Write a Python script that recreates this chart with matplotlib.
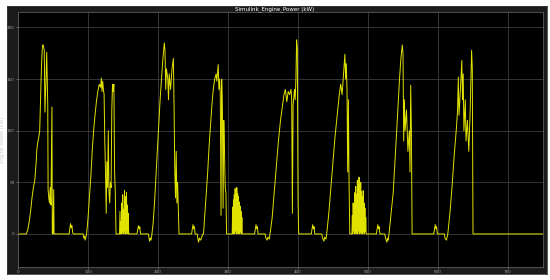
import matplotlib
matplotlib.use('Agg')
import matplotlib.pyplot as plt

# engine power trace (time s, power kW), one block per drive cycle
c1_t = [0, 12, 14, 16, 18, 20, 22, 24, 26, 27, 28, 30, 31, 32, 33, 34, 35, 36, 37.5, 38.5, 40, 41, 42.5, 43, 44, 45, 46, 47, 48.5, 49, 50, 51, 51.5]
c1_p = [0, 0, 4, 12, 22, 35, 45, 52, 70, 82, 88, 95, 100, 125, 150, 170, 183, 183, 178, 118, 150, 176, 125, 43, 35, 30, 45, 28, 123, 0, 0, 43, 0]

b1_t = [73, 75, 76, 77, 78, 79, 93, 94, 95, 96, 97]
b1_p = [0, 10, 6, 8, 2, 0, 0, -4, -2, -6, -3]

c2_t = [98, 100, 102, 104, 106, 108, 110, 112, 114, 116, 118, 119, 120, 121, 122, 123, 124, 125, 126, 127, 128, 129, 130, 131, 132, 133, 134, 135, 136, 137, 138, 139, 140]
c2_p = [0, 15, 35, 55, 80, 100, 115, 128, 138, 145, 142, 151, 138, 148, 140, 135, 90, 60, 20, 70, 45, 100, 40, 30, 50, 45, 120, 145, 138, 145, 60, 40, 0]

s2_t = [145, 145.7, 146.4, 147, 147.6, 148.2, 149, 149.6, 150.2, 151, 151.6, 152.2, 153, 153.6, 154.2, 155, 155.6, 156.2, 157, 157.6, 158.2, 159]
s2_p = [0, 22, 0, 12, 0, 30, 2, 38, 0, 24, 3, 42, 0, 36, 0, 40, 4, 28, 0, 20, 0, 0]

b2_t = [170, 172, 173, 174, 175, 186, 187, 188, 189, 190]
b2_p = [0, 8, 5, 7, 0, 0, -3, -7, -4, -6]

c3_t = [191, 193, 195, 197, 199, 201, 203, 205, 207, 209, 210, 211, 212, 214, 215, 216, 218, 220, 222, 223, 224, 225, 226, 227, 228, 229, 230]
c3_p = [-2, 10, 30, 55, 80, 105, 130, 150, 170, 185, 178, 140, 160, 150, 130, 155, 140, 160, 170, 120, 60, 35, 80, 30, 50, 25, 0]

b3_t = [248, 250, 251, 252, 253, 256, 257, 258, 259, 261, 263, 264]
b3_p = [0, 9, 5, 7, 0, 0, -5, -8, -4, -6, -2, 0]

c4_t = [265, 267, 269, 271, 273, 275, 277, 279, 281, 283, 284, 286, 287, 288, 289, 290, 291, 292, 293, 294, 295, 296, 297, 298]
c4_p = [0, 20, 40, 60, 85, 105, 125, 140, 150, 155, 148, 164, 140, 150, 135, 18, 150, 120, 25, 110, 80, 45, 40, 0]

s4_t = [306, 306.6, 307.2, 307.8, 308.4, 309, 309.6, 310.2, 310.8, 311.4, 312, 312.6, 313.2, 313.8, 314.4, 315, 315.6, 316.2, 316.8, 317.4, 318, 318.6, 319.2, 319.8, 320.4, 321]
s4_p = [0, 26, 0, 33, 2, 38, 0, 44, 3, 41, 0, 45, 2, 39, 0, 36, 3, 31, 0, 27, 2, 22, 0, 16, 0, 0]

b4_t = [338, 340, 341, 342, 343, 353, 354, 356, 357, 359, 360]
b4_p = [0, 9, 5, 7, 0, 0, -4, -6, -3, -5, 0]

c5_t = [360, 363, 366, 369, 372, 375, 378, 380, 382, 384, 386, 388, 390, 391, 392, 393, 395, 396, 397, 398, 399, 400, 400.5, 401]
c5_p = [0, 15, 40, 65, 90, 110, 125, 135, 140, 128, 138, 135, 140, 130, 20, 125, 140, 130, 150, 188, 180, 40, 15, 0]

b5_t = [419, 421, 422, 423, 424, 434, 435, 437, 438, 440, 441]
b5_p = [0, 9, 5, 7, 0, 0, -4, -7, -3, -5, 0]

c6_t = [441, 444, 447, 450, 453, 456, 459, 461, 463, 465, 467, 468, 469, 470, 471, 472, 473, 474]
c6_p = [0, 20, 45, 70, 95, 115, 135, 145, 135, 155, 174, 150, 165, 140, 60, 130, 45, 0]

s6_t = [477, 477.6, 478.2, 478.8, 479.4, 480, 480.6, 481.2, 481.8, 482.4, 483, 483.6, 484.2, 484.8, 485.4, 486, 486.6, 487.2, 487.8, 488.4, 489, 489.6, 490.2, 490.8, 491.4, 492, 492.6, 493.2, 493.8, 494.4, 495, 495.6, 496.2, 496.8, 497.4, 498]
s6_p = [0, 18, 0, 30, 3, 24, 0, 40, 2, 46, 0, 38, 4, 52, 0, 48, 3, 55, 0, 44, 2, 50, 0, 41, 3, 36, 0, 42, 2, 30, 0, 25, 2, 16, 0, 0]

b6_t = [512, 514, 515, 516, 517, 524, 525, 527, 528, 529, 530]
b6_p = [0, 9, 5, 7, 0, 0, -4, -8, -4, -6, 0]

c7_t = [530, 533, 536, 539, 541, 543, 545, 547, 549, 550, 551, 552, 553, 555, 557, 559, 560, 561, 562, 563]
c7_p = [0, 20, 40, 75, 100, 125, 150, 170, 183, 175, 90, 130, 100, 120, 80, 100, 60, 144, 100, 0]

b7_t = [594, 596, 597, 598, 599, 609, 610, 612, 613, 614]
b7_p = [0, 9, 5, 7, 0, 0, -4, -6, -3, 0]

c8_t = [614, 617, 620, 623, 626, 628, 629, 630, 632, 634, 635, 636, 637, 639, 640, 642, 644, 646, 648, 649, 650, 750]
c8_p = [0, 20, 45, 75, 100, 120, 152, 115, 140, 168, 130, 155, 100, 130, 90, 110, 80, 120, 178, 160, 0, 0]

time_s = (c1_t + b1_t + c2_t + s2_t + b2_t + c3_t + b3_t + c4_t + s4_t + b4_t
          + c5_t + b5_t + c6_t + s6_t + b6_t + c7_t + b7_t + c8_t)
power_kw = (c1_p + b1_p + c2_p + s2_p + b2_p + c3_p + b3_p + c4_p + s4_p + b4_p
            + c5_p + b5_p + c6_p + s6_p + b6_p + c7_p + b7_p + c8_p)

fig = plt.figure(figsize=(5.5, 2.8), dpi=100)
fig.patch.set_facecolor('white')

# dark scope frame behind the plot
bg = fig.add_axes([7 / 550, 6 / 280, 540 / 550, 268 / 280])
bg.set_facecolor('#1b1b1b')
bg.set_xticks([])
bg.set_yticks([])
for s in bg.spines.values():
    s.set_color('#3a3a3a')
    s.set_linewidth(0.6)
bg.set_zorder(0)

ax = fig.add_axes([18 / 550, 13 / 280, 525 / 550, 255 / 280])
ax.set_zorder(1)
ax.set_facecolor('black')
ax.plot(time_s, power_kw, color='#e2e200', lw=0.7)

ax.set_xlim(0, 750)
ax.set_ylim(-32, 215)
ax.set_xticks(range(0, 800, 100))
ax.set_yticks(range(0, 250, 50))
ax.grid(True, color='#3c3c3c', lw=0.6)
for s in ax.spines.values():
    s.set_color('#5a5a5a')
    s.set_linewidth(0.6)
ax.tick_params(colors='#a0a0a0', labelsize=3, length=1.5, width=0.4, pad=1)
ax.set_ylabel('Engine Power (kW)', color='#d0d0d0', fontsize=3.5, labelpad=1)
fig.text(0.5, 1 - 9 / 280, 'Simulink_Engine_Power (kW)', color='white',
         fontsize=4, ha='center', va='center', zorder=5)

fig.savefig('out.png', dpi=100)
